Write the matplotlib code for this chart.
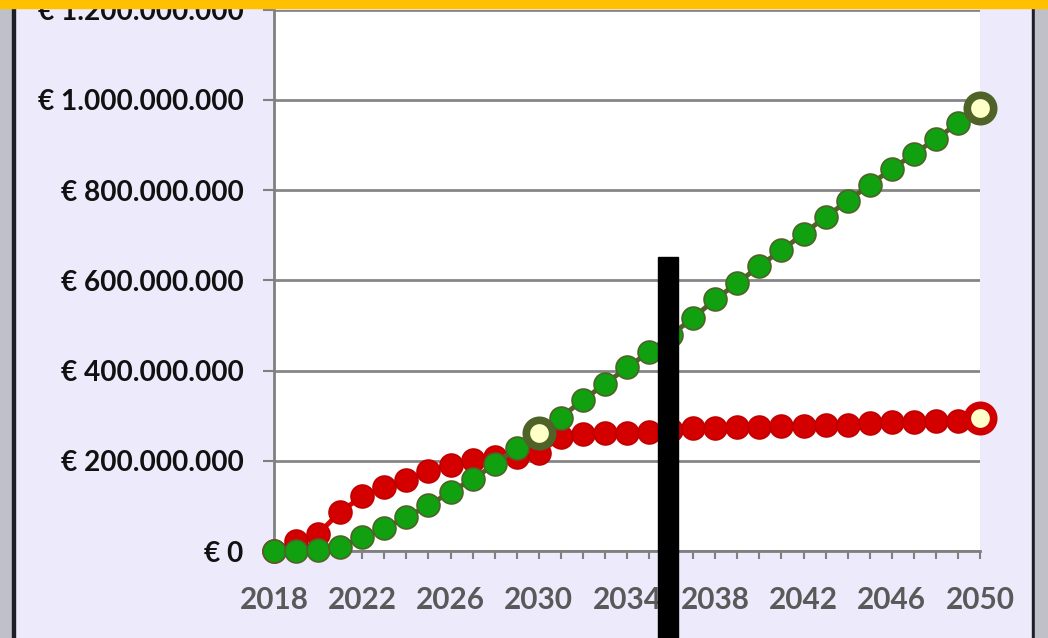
import matplotlib.pyplot as plt
from matplotlib.patches import Rectangle
import numpy as np

years = list(range(2018, 2051))

# cumulative amounts in euro
red_vals = [0, 22e6, 38e6, 87e6, 121e6, 142e6, 158e6, 178e6, 191e6, 201e6,
            209e6, 208e6, 218e6, 252e6, 259e6, 261e6, 262e6, 263e6, 268e6,
            272e6, 273e6, 274e6, 275e6, 277e6, 278e6, 280e6, 279e6, 283e6,
            285e6, 286e6, 288e6, 289e6, 295e6]
green_vals = [0, 0, 3e6, 9e6, 30e6, 50e6, 75e6, 101e6, 131e6, 159e6,
              192e6, 229e6, 262e6, 296e6, 335e6, 370e6, 407e6, 441e6, 479e6,
              517e6, 558e6, 594e6, 632e6, 667e6, 703e6, 741e6, 776e6, 812e6,
              847e6, 880e6, 914e6, 948e6, 982e6]
highlight_green = [2030, 2050]
highlight_red = [2050]

y_ticks = [0, 200e6, 400e6, 600e6, 800e6, 1000e6, 1200e6]
x_label_years = list(range(2018, 2051, 4))


def euro(v):
    if v == 0:
        return "€ 0"
    return "€ " + f"{int(v):,}".replace(",", ".")


plt.rcParams["font.family"] = ["Lato", "DejaVu Sans"]

fig = plt.figure(figsize=(10.48, 6.38), dpi=100, facecolor="#ECEAFB")
ax = fig.add_axes([274 / 1048, 87 / 638, 706 / 1048, 541.2 / 638])
ax.set_facecolor("white")

# series
ax.plot(years, red_vals, color="#E00000", lw=3.5, marker="o", ms=16.5,
        mfc="#D40000", mec="#C00000", mew=1.2, clip_on=False, zorder=3)
ax.plot(years, green_vals, color="#4F6228", lw=3.5, marker="o", ms=16.5,
        mfc="#10A010", mec="#4F6228", mew=1.2, clip_on=False, zorder=4)

# highlighted points
for yr in highlight_green:
    i = years.index(yr)
    ax.plot(years[i], green_vals[i], marker="o", ms=19, mfc="#FFFFC8",
            mec="#4F6228", mew=5.5, clip_on=False, zorder=5)
for yr in highlight_red:
    i = years.index(yr)
    ax.plot(years[i], red_vals[i], marker="o", ms=19, mfc="#FFFFC8",
            mec="#D00000", mew=5.5, clip_on=False, zorder=5)

ax.set_xlim(2018, 2050)
ax.set_ylim(0, 1200e6)

ax.set_yticks(y_ticks)
ax.set_yticklabels([euro(v) for v in y_ticks], fontsize=20.2, fontweight="bold",
                   color="#111111")
ax.set_xticks(years)
ax.set_xticklabels([str(y) if y in x_label_years else "" for y in years],
                   fontsize=21.4, fontweight="bold", color="#595959")
ax.tick_params(axis="y", length=8, width=1.5, color="#808080", pad=14)
ax.tick_params(axis="x", length=6, width=1.5, color="#808080", pad=19)

ax.grid(True, axis="y", color="#868686", lw=2)
ax.set_axisbelow(True)
for side in ["top", "right"]:
    ax.spines[side].set_visible(False)
for side in ["left", "bottom"]:
    ax.spines[side].set_color("#808080")
    ax.spines[side].set_linewidth(2)

# frame bits around the picture
fig.patches.append(Rectangle((0, 0), 12 / 1048, 1, transform=fig.transFigure,
                             color="#C0C0C8", zorder=10))
fig.patches.append(Rectangle((12 / 1048, 0), 3 / 1048, 1, transform=fig.transFigure,
                             color="#1E1E28", zorder=10))
fig.patches.append(Rectangle((1032 / 1048, 0), 3 / 1048, 1, transform=fig.transFigure,
                             color="#1E1E28", zorder=10))
fig.patches.append(Rectangle((1035 / 1048, 0), 13 / 1048, 1, transform=fig.transFigure,
                             color="#C0C0C8", zorder=10))
fig.patches.append(Rectangle((0, 630 / 638), 1, 8 / 638, transform=fig.transFigure,
                             color="#FFC000", zorder=10))
fig.patches.append(Rectangle((658 / 1048, 0), 20 / 1048, 381 / 638,
                             transform=fig.transFigure, color="black", zorder=10))

plt.savefig("out.png", dpi=100, facecolor=fig.get_facecolor())
